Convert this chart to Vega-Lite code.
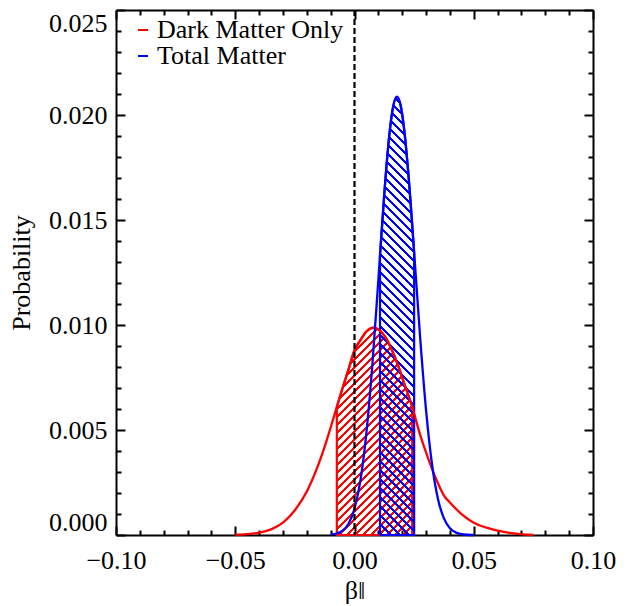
{
"$schema": "https://vega.github.io/schema/vega-lite/v6.json",
"width": 477, "height": 525,
"autosize": {"type": "none"},
"padding": {"left": 116, "top": 10, "right": 35, "bottom": 71},
"background": "white",
"datasets": {
"dm": [
{"x":-0.05,"y":0.000014},{"x":-0.045,"y":0.000041},{"x":-0.04,"y":0.00011},{"x":-0.035,"y":0.00027},{"x":-0.03,"y":0.00059},{"x":-0.025,"y":0.00118},{"x":-0.02,"y":0.00207},{"x":-0.015,"y":0.0034},{"x":-0.0125,"y":0.00421},{"x":-0.01,"y":0.00512},{"x":-0.0074,"y":0.0061},{"x":-0.005,"y":0.007},{"x":-0.0025,"y":0.00789},{"x":0,"y":0.0088},{"x":0.0025,"y":0.00928},{"x":0.005,"y":0.00969},{"x":0.008,"y":0.00987},{"x":0.0105,"y":0.00975},{"x":0.013,"y":0.00941},{"x":0.0155,"y":0.00886},{"x":0.018,"y":0.00816},{"x":0.0205,"y":0.00733},{"x":0.0242,"y":0.0061},{"x":0.0275,"y":0.00478},{"x":0.03,"y":0.00393},{"x":0.0325,"y":0.00315},{"x":0.035,"y":0.00246},{"x":0.0375,"y":0.00188},{"x":0.04,"y":0.00155},{"x":0.045,"y":0.00098},{"x":0.05,"y":0.00058},{"x":0.055,"y":0.00036},{"x":0.06,"y":0.00021},{"x":0.065,"y":0.0001},{"x":0.07,"y":0.00004},{"x":0.075,"y":0}
],
"tm": [
{"x":-0.01,"y":0.00002},{"x":-0.0075,"y":0.00007},{"x":-0.005,"y":0.000206},{"x":-0.0025,"y":0.000535},{"x":0,"y":0.00125},{"x":0.0025,"y":0.0026},{"x":0.005,"y":0.00487},{"x":0.0075,"y":0.00813},{"x":0.0095,"y":0.01132},{"x":0.0107,"y":0.01333},{"x":0.0125,"y":0.01626},{"x":0.0145,"y":0.01894},{"x":0.016,"y":0.02028},{"x":0.0178,"y":0.02087},{"x":0.0195,"y":0.02037},{"x":0.021,"y":0.01914},{"x":0.0225,"y":0.01732},{"x":0.025,"y":0.01348},{"x":0.0275,"y":0.00944},{"x":0.03,"y":0.00595},{"x":0.0325,"y":0.00337},{"x":0.035,"y":0.00172},{"x":0.0375,"y":0.00079},{"x":0.04,"y":0.000327},{"x":0.0425,"y":0.000122},{"x":0.045,"y":0.00004},{"x":0.0475,"y":0.000012},{"x":0.05,"y":0}
],
"zero": [{"x":0}]
},
"layer": [
{
"data": {"name": "dm"},
"transform": [{"filter": "datum.x >= -0.0074 && datum.x <= 0.0242"}],
"mark": {"type": "area", "interpolate": "monotone", "stroke": "#ff0000", "strokeWidth": 2.2,
"fill": {"gradient": "linear", "x1": 0, "y1": 0, "x2": 0.496, "y2": 1.363, "stops": [
{"offset":0,"color":"#ff0000"},{"offset":0.01,"color":"#ff0000"},{"offset":0.01,"color":"rgba(255,0,0,0)"},{"offset":0.025,"color":"rgba(255,0,0,0)"},
{"offset":0.025,"color":"#ff0000"},{"offset":0.035,"color":"#ff0000"},{"offset":0.035,"color":"rgba(255,0,0,0)"},{"offset":0.05,"color":"rgba(255,0,0,0)"},
{"offset":0.05,"color":"#ff0000"},{"offset":0.06,"color":"#ff0000"},{"offset":0.06,"color":"rgba(255,0,0,0)"},{"offset":0.075,"color":"rgba(255,0,0,0)"},
{"offset":0.075,"color":"#ff0000"},{"offset":0.085,"color":"#ff0000"},{"offset":0.085,"color":"rgba(255,0,0,0)"},{"offset":0.1,"color":"rgba(255,0,0,0)"},
{"offset":0.1,"color":"#ff0000"},{"offset":0.11,"color":"#ff0000"},{"offset":0.11,"color":"rgba(255,0,0,0)"},{"offset":0.125,"color":"rgba(255,0,0,0)"},
{"offset":0.125,"color":"#ff0000"},{"offset":0.135,"color":"#ff0000"},{"offset":0.135,"color":"rgba(255,0,0,0)"},{"offset":0.15,"color":"rgba(255,0,0,0)"},
{"offset":0.15,"color":"#ff0000"},{"offset":0.16,"color":"#ff0000"},{"offset":0.16,"color":"rgba(255,0,0,0)"},{"offset":0.175,"color":"rgba(255,0,0,0)"},
{"offset":0.175,"color":"#ff0000"},{"offset":0.185,"color":"#ff0000"},{"offset":0.185,"color":"rgba(255,0,0,0)"},{"offset":0.2,"color":"rgba(255,0,0,0)"},
{"offset":0.2,"color":"#ff0000"},{"offset":0.21,"color":"#ff0000"},{"offset":0.21,"color":"rgba(255,0,0,0)"},{"offset":0.225,"color":"rgba(255,0,0,0)"},
{"offset":0.225,"color":"#ff0000"},{"offset":0.235,"color":"#ff0000"},{"offset":0.235,"color":"rgba(255,0,0,0)"},{"offset":0.25,"color":"rgba(255,0,0,0)"},
{"offset":0.25,"color":"#ff0000"},{"offset":0.26,"color":"#ff0000"},{"offset":0.26,"color":"rgba(255,0,0,0)"},{"offset":0.275,"color":"rgba(255,0,0,0)"},
{"offset":0.275,"color":"#ff0000"},{"offset":0.285,"color":"#ff0000"},{"offset":0.285,"color":"rgba(255,0,0,0)"},{"offset":0.3,"color":"rgba(255,0,0,0)"},
{"offset":0.3,"color":"#ff0000"},{"offset":0.31,"color":"#ff0000"},{"offset":0.31,"color":"rgba(255,0,0,0)"},{"offset":0.325,"color":"rgba(255,0,0,0)"},
{"offset":0.325,"color":"#ff0000"},{"offset":0.335,"color":"#ff0000"},{"offset":0.335,"color":"rgba(255,0,0,0)"},{"offset":0.35,"color":"rgba(255,0,0,0)"},
{"offset":0.35,"color":"#ff0000"},{"offset":0.36,"color":"#ff0000"},{"offset":0.36,"color":"rgba(255,0,0,0)"},{"offset":0.375,"color":"rgba(255,0,0,0)"},
{"offset":0.375,"color":"#ff0000"},{"offset":0.385,"color":"#ff0000"},{"offset":0.385,"color":"rgba(255,0,0,0)"},{"offset":0.4,"color":"rgba(255,0,0,0)"},
{"offset":0.4,"color":"#ff0000"},{"offset":0.41,"color":"#ff0000"},{"offset":0.41,"color":"rgba(255,0,0,0)"},{"offset":0.425,"color":"rgba(255,0,0,0)"},
{"offset":0.425,"color":"#ff0000"},{"offset":0.435,"color":"#ff0000"},{"offset":0.435,"color":"rgba(255,0,0,0)"},{"offset":0.45,"color":"rgba(255,0,0,0)"},
{"offset":0.45,"color":"#ff0000"},{"offset":0.46,"color":"#ff0000"},{"offset":0.46,"color":"rgba(255,0,0,0)"},{"offset":0.475,"color":"rgba(255,0,0,0)"},
{"offset":0.475,"color":"#ff0000"},{"offset":0.485,"color":"#ff0000"},{"offset":0.485,"color":"rgba(255,0,0,0)"},{"offset":0.5,"color":"rgba(255,0,0,0)"},
{"offset":0.5,"color":"#ff0000"},{"offset":0.51,"color":"#ff0000"},{"offset":0.51,"color":"rgba(255,0,0,0)"},{"offset":0.525,"color":"rgba(255,0,0,0)"},
{"offset":0.525,"color":"#ff0000"},{"offset":0.535,"color":"#ff0000"},{"offset":0.535,"color":"rgba(255,0,0,0)"},{"offset":0.55,"color":"rgba(255,0,0,0)"},
{"offset":0.55,"color":"#ff0000"},{"offset":0.56,"color":"#ff0000"},{"offset":0.56,"color":"rgba(255,0,0,0)"},{"offset":0.575,"color":"rgba(255,0,0,0)"},
{"offset":0.575,"color":"#ff0000"},{"offset":0.585,"color":"#ff0000"},{"offset":0.585,"color":"rgba(255,0,0,0)"},{"offset":0.6,"color":"rgba(255,0,0,0)"},
{"offset":0.6,"color":"#ff0000"},{"offset":0.61,"color":"#ff0000"},{"offset":0.61,"color":"rgba(255,0,0,0)"},{"offset":0.625,"color":"rgba(255,0,0,0)"},
{"offset":0.625,"color":"#ff0000"},{"offset":0.635,"color":"#ff0000"},{"offset":0.635,"color":"rgba(255,0,0,0)"},{"offset":0.65,"color":"rgba(255,0,0,0)"},
{"offset":0.65,"color":"#ff0000"},{"offset":0.66,"color":"#ff0000"},{"offset":0.66,"color":"rgba(255,0,0,0)"},{"offset":0.675,"color":"rgba(255,0,0,0)"},
{"offset":0.675,"color":"#ff0000"},{"offset":0.685,"color":"#ff0000"},{"offset":0.685,"color":"rgba(255,0,0,0)"},{"offset":0.7,"color":"rgba(255,0,0,0)"},
{"offset":0.7,"color":"#ff0000"},{"offset":0.71,"color":"#ff0000"},{"offset":0.71,"color":"rgba(255,0,0,0)"},{"offset":0.725,"color":"rgba(255,0,0,0)"},
{"offset":0.725,"color":"#ff0000"},{"offset":0.735,"color":"#ff0000"},{"offset":0.735,"color":"rgba(255,0,0,0)"},{"offset":0.75,"color":"rgba(255,0,0,0)"},
{"offset":0.75,"color":"#ff0000"},{"offset":0.76,"color":"#ff0000"},{"offset":0.76,"color":"rgba(255,0,0,0)"},{"offset":0.775,"color":"rgba(255,0,0,0)"},
{"offset":0.775,"color":"#ff0000"},{"offset":0.785,"color":"#ff0000"},{"offset":0.785,"color":"rgba(255,0,0,0)"},{"offset":0.8,"color":"rgba(255,0,0,0)"},
{"offset":0.8,"color":"#ff0000"},{"offset":0.81,"color":"#ff0000"},{"offset":0.81,"color":"rgba(255,0,0,0)"},{"offset":0.825,"color":"rgba(255,0,0,0)"},
{"offset":0.825,"color":"#ff0000"},{"offset":0.835,"color":"#ff0000"},{"offset":0.835,"color":"rgba(255,0,0,0)"},{"offset":0.85,"color":"rgba(255,0,0,0)"},
{"offset":0.85,"color":"#ff0000"},{"offset":0.86,"color":"#ff0000"},{"offset":0.86,"color":"rgba(255,0,0,0)"},{"offset":0.875,"color":"rgba(255,0,0,0)"},
{"offset":0.875,"color":"#ff0000"},{"offset":0.885,"color":"#ff0000"},{"offset":0.885,"color":"rgba(255,0,0,0)"},{"offset":0.9,"color":"rgba(255,0,0,0)"},
{"offset":0.9,"color":"#ff0000"},{"offset":0.91,"color":"#ff0000"},{"offset":0.91,"color":"rgba(255,0,0,0)"},{"offset":0.925,"color":"rgba(255,0,0,0)"},
{"offset":0.925,"color":"#ff0000"},{"offset":0.935,"color":"#ff0000"},{"offset":0.935,"color":"rgba(255,0,0,0)"},{"offset":0.95,"color":"rgba(255,0,0,0)"},
{"offset":0.95,"color":"#ff0000"},{"offset":0.96,"color":"#ff0000"},{"offset":0.96,"color":"rgba(255,0,0,0)"},{"offset":0.975,"color":"rgba(255,0,0,0)"},
{"offset":0.975,"color":"#ff0000"},{"offset":0.985,"color":"#ff0000"},{"offset":0.985,"color":"rgba(255,0,0,0)"},{"offset":1,"color":"rgba(255,0,0,0)"}
]}},
"encoding": {
"x": {"field": "x", "type": "quantitative", "scale": {"domain": [-0.1, 0.1], "nice": false, "zero": false},
"axis": {"orient": "bottom", "values": [-0.09,-0.08,-0.07,-0.06,-0.04,-0.03,-0.02,-0.01,0.01,0.02,0.03,0.04,0.06,0.07,0.08,0.09], "tickSize": -5, "labels": false, "domain": false, "title": null}},
"y": {"field": "y", "type": "quantitative", "scale": {"domain": [0, 0.025], "nice": false, "zero": false},
"axis": {"orient": "left", "values": [0.001,0.002,0.003,0.004,0.006,0.007,0.008,0.009,0.011,0.012,0.013,0.014,0.016,0.017,0.018,0.019,0.021,0.022,0.023,0.024], "tickSize": -5, "labels": false, "domain": false, "title": null}}
}
},
{
"data": {"name": "tm"},
"transform": [{"filter": "datum.x >= 0.0107 && datum.x <= 0.025"}],
"mark": {"type": "area", "interpolate": "monotone", "stroke": "#0000ff", "strokeWidth": 2.2,
"fill": {"gradient": "linear", "x1": 0, "y1": 1, "x2": 0.0858, "y2": -0.1024, "stops": [
{"offset":0,"color":"#0000ff"},{"offset":0.0065,"color":"#0000ff"},{"offset":0.0065,"color":"rgba(0,0,255,0)"},{"offset":0.0185,"color":"rgba(0,0,255,0)"},
{"offset":0.0185,"color":"#0000ff"},{"offset":0.025,"color":"#0000ff"},{"offset":0.025,"color":"rgba(0,0,255,0)"},{"offset":0.037,"color":"rgba(0,0,255,0)"},
{"offset":0.037,"color":"#0000ff"},{"offset":0.0435,"color":"#0000ff"},{"offset":0.0435,"color":"rgba(0,0,255,0)"},{"offset":0.0556,"color":"rgba(0,0,255,0)"},
{"offset":0.0556,"color":"#0000ff"},{"offset":0.0621,"color":"#0000ff"},{"offset":0.0621,"color":"rgba(0,0,255,0)"},{"offset":0.0741,"color":"rgba(0,0,255,0)"},
{"offset":0.0741,"color":"#0000ff"},{"offset":0.0806,"color":"#0000ff"},{"offset":0.0806,"color":"rgba(0,0,255,0)"},{"offset":0.0926,"color":"rgba(0,0,255,0)"},
{"offset":0.0926,"color":"#0000ff"},{"offset":0.0991,"color":"#0000ff"},{"offset":0.0991,"color":"rgba(0,0,255,0)"},{"offset":0.1111,"color":"rgba(0,0,255,0)"},
{"offset":0.1111,"color":"#0000ff"},{"offset":0.1176,"color":"#0000ff"},{"offset":0.1176,"color":"rgba(0,0,255,0)"},{"offset":0.1296,"color":"rgba(0,0,255,0)"},
{"offset":0.1296,"color":"#0000ff"},{"offset":0.1361,"color":"#0000ff"},{"offset":0.1361,"color":"rgba(0,0,255,0)"},{"offset":0.1481,"color":"rgba(0,0,255,0)"},
{"offset":0.1481,"color":"#0000ff"},{"offset":0.1546,"color":"#0000ff"},{"offset":0.1546,"color":"rgba(0,0,255,0)"},{"offset":0.1667,"color":"rgba(0,0,255,0)"},
{"offset":0.1667,"color":"#0000ff"},{"offset":0.1732,"color":"#0000ff"},{"offset":0.1732,"color":"rgba(0,0,255,0)"},{"offset":0.1852,"color":"rgba(0,0,255,0)"},
{"offset":0.1852,"color":"#0000ff"},{"offset":0.1917,"color":"#0000ff"},{"offset":0.1917,"color":"rgba(0,0,255,0)"},{"offset":0.2037,"color":"rgba(0,0,255,0)"},
{"offset":0.2037,"color":"#0000ff"},{"offset":0.2102,"color":"#0000ff"},{"offset":0.2102,"color":"rgba(0,0,255,0)"},{"offset":0.2222,"color":"rgba(0,0,255,0)"},
{"offset":0.2222,"color":"#0000ff"},{"offset":0.2287,"color":"#0000ff"},{"offset":0.2287,"color":"rgba(0,0,255,0)"},{"offset":0.2407,"color":"rgba(0,0,255,0)"},
{"offset":0.2407,"color":"#0000ff"},{"offset":0.2472,"color":"#0000ff"},{"offset":0.2472,"color":"rgba(0,0,255,0)"},{"offset":0.2593,"color":"rgba(0,0,255,0)"},
{"offset":0.2593,"color":"#0000ff"},{"offset":0.2658,"color":"#0000ff"},{"offset":0.2658,"color":"rgba(0,0,255,0)"},{"offset":0.2778,"color":"rgba(0,0,255,0)"},
{"offset":0.2778,"color":"#0000ff"},{"offset":0.2843,"color":"#0000ff"},{"offset":0.2843,"color":"rgba(0,0,255,0)"},{"offset":0.2963,"color":"rgba(0,0,255,0)"},
{"offset":0.2963,"color":"#0000ff"},{"offset":0.3028,"color":"#0000ff"},{"offset":0.3028,"color":"rgba(0,0,255,0)"},{"offset":0.3148,"color":"rgba(0,0,255,0)"},
{"offset":0.3148,"color":"#0000ff"},{"offset":0.3213,"color":"#0000ff"},{"offset":0.3213,"color":"rgba(0,0,255,0)"},{"offset":0.3333,"color":"rgba(0,0,255,0)"},
{"offset":0.3333,"color":"#0000ff"},{"offset":0.3398,"color":"#0000ff"},{"offset":0.3398,"color":"rgba(0,0,255,0)"},{"offset":0.3519,"color":"rgba(0,0,255,0)"},
{"offset":0.3519,"color":"#0000ff"},{"offset":0.3584,"color":"#0000ff"},{"offset":0.3584,"color":"rgba(0,0,255,0)"},{"offset":0.3704,"color":"rgba(0,0,255,0)"},
{"offset":0.3704,"color":"#0000ff"},{"offset":0.3769,"color":"#0000ff"},{"offset":0.3769,"color":"rgba(0,0,255,0)"},{"offset":0.3889,"color":"rgba(0,0,255,0)"},
{"offset":0.3889,"color":"#0000ff"},{"offset":0.3954,"color":"#0000ff"},{"offset":0.3954,"color":"rgba(0,0,255,0)"},{"offset":0.4074,"color":"rgba(0,0,255,0)"},
{"offset":0.4074,"color":"#0000ff"},{"offset":0.4139,"color":"#0000ff"},{"offset":0.4139,"color":"rgba(0,0,255,0)"},{"offset":0.4259,"color":"rgba(0,0,255,0)"},
{"offset":0.4259,"color":"#0000ff"},{"offset":0.4324,"color":"#0000ff"},{"offset":0.4324,"color":"rgba(0,0,255,0)"},{"offset":0.4444,"color":"rgba(0,0,255,0)"},
{"offset":0.4444,"color":"#0000ff"},{"offset":0.4509,"color":"#0000ff"},{"offset":0.4509,"color":"rgba(0,0,255,0)"},{"offset":0.463,"color":"rgba(0,0,255,0)"},
{"offset":0.463,"color":"#0000ff"},{"offset":0.4695,"color":"#0000ff"},{"offset":0.4695,"color":"rgba(0,0,255,0)"},{"offset":0.4815,"color":"rgba(0,0,255,0)"},
{"offset":0.4815,"color":"#0000ff"},{"offset":0.488,"color":"#0000ff"},{"offset":0.488,"color":"rgba(0,0,255,0)"},{"offset":0.5,"color":"rgba(0,0,255,0)"},
{"offset":0.5,"color":"#0000ff"},{"offset":0.5065,"color":"#0000ff"},{"offset":0.5065,"color":"rgba(0,0,255,0)"},{"offset":0.5185,"color":"rgba(0,0,255,0)"},
{"offset":0.5185,"color":"#0000ff"},{"offset":0.525,"color":"#0000ff"},{"offset":0.525,"color":"rgba(0,0,255,0)"},{"offset":0.537,"color":"rgba(0,0,255,0)"},
{"offset":0.537,"color":"#0000ff"},{"offset":0.5435,"color":"#0000ff"},{"offset":0.5435,"color":"rgba(0,0,255,0)"},{"offset":0.5556,"color":"rgba(0,0,255,0)"},
{"offset":0.5556,"color":"#0000ff"},{"offset":0.5621,"color":"#0000ff"},{"offset":0.5621,"color":"rgba(0,0,255,0)"},{"offset":0.5741,"color":"rgba(0,0,255,0)"},
{"offset":0.5741,"color":"#0000ff"},{"offset":0.5806,"color":"#0000ff"},{"offset":0.5806,"color":"rgba(0,0,255,0)"},{"offset":0.5926,"color":"rgba(0,0,255,0)"},
{"offset":0.5926,"color":"#0000ff"},{"offset":0.5991,"color":"#0000ff"},{"offset":0.5991,"color":"rgba(0,0,255,0)"},{"offset":0.6111,"color":"rgba(0,0,255,0)"},
{"offset":0.6111,"color":"#0000ff"},{"offset":0.6176,"color":"#0000ff"},{"offset":0.6176,"color":"rgba(0,0,255,0)"},{"offset":0.6296,"color":"rgba(0,0,255,0)"},
{"offset":0.6296,"color":"#0000ff"},{"offset":0.6361,"color":"#0000ff"},{"offset":0.6361,"color":"rgba(0,0,255,0)"},{"offset":0.6481,"color":"rgba(0,0,255,0)"},
{"offset":0.6481,"color":"#0000ff"},{"offset":0.6546,"color":"#0000ff"},{"offset":0.6546,"color":"rgba(0,0,255,0)"},{"offset":0.6667,"color":"rgba(0,0,255,0)"},
{"offset":0.6667,"color":"#0000ff"},{"offset":0.6732,"color":"#0000ff"},{"offset":0.6732,"color":"rgba(0,0,255,0)"},{"offset":0.6852,"color":"rgba(0,0,255,0)"},
{"offset":0.6852,"color":"#0000ff"},{"offset":0.6917,"color":"#0000ff"},{"offset":0.6917,"color":"rgba(0,0,255,0)"},{"offset":0.7037,"color":"rgba(0,0,255,0)"},
{"offset":0.7037,"color":"#0000ff"},{"offset":0.7102,"color":"#0000ff"},{"offset":0.7102,"color":"rgba(0,0,255,0)"},{"offset":0.7222,"color":"rgba(0,0,255,0)"},
{"offset":0.7222,"color":"#0000ff"},{"offset":0.7287,"color":"#0000ff"},{"offset":0.7287,"color":"rgba(0,0,255,0)"},{"offset":0.7407,"color":"rgba(0,0,255,0)"},
{"offset":0.7407,"color":"#0000ff"},{"offset":0.7472,"color":"#0000ff"},{"offset":0.7472,"color":"rgba(0,0,255,0)"},{"offset":0.7593,"color":"rgba(0,0,255,0)"},
{"offset":0.7593,"color":"#0000ff"},{"offset":0.7658,"color":"#0000ff"},{"offset":0.7658,"color":"rgba(0,0,255,0)"},{"offset":0.7778,"color":"rgba(0,0,255,0)"},
{"offset":0.7778,"color":"#0000ff"},{"offset":0.7843,"color":"#0000ff"},{"offset":0.7843,"color":"rgba(0,0,255,0)"},{"offset":0.7963,"color":"rgba(0,0,255,0)"},
{"offset":0.7963,"color":"#0000ff"},{"offset":0.8028,"color":"#0000ff"},{"offset":0.8028,"color":"rgba(0,0,255,0)"},{"offset":0.8148,"color":"rgba(0,0,255,0)"},
{"offset":0.8148,"color":"#0000ff"},{"offset":0.8213,"color":"#0000ff"},{"offset":0.8213,"color":"rgba(0,0,255,0)"},{"offset":0.8333,"color":"rgba(0,0,255,0)"},
{"offset":0.8333,"color":"#0000ff"},{"offset":0.8398,"color":"#0000ff"},{"offset":0.8398,"color":"rgba(0,0,255,0)"},{"offset":0.8519,"color":"rgba(0,0,255,0)"},
{"offset":0.8519,"color":"#0000ff"},{"offset":0.8584,"color":"#0000ff"},{"offset":0.8584,"color":"rgba(0,0,255,0)"},{"offset":0.8704,"color":"rgba(0,0,255,0)"},
{"offset":0.8704,"color":"#0000ff"},{"offset":0.8769,"color":"#0000ff"},{"offset":0.8769,"color":"rgba(0,0,255,0)"},{"offset":0.8889,"color":"rgba(0,0,255,0)"},
{"offset":0.8889,"color":"#0000ff"},{"offset":0.8954,"color":"#0000ff"},{"offset":0.8954,"color":"rgba(0,0,255,0)"},{"offset":0.9074,"color":"rgba(0,0,255,0)"},
{"offset":0.9074,"color":"#0000ff"},{"offset":0.9139,"color":"#0000ff"},{"offset":0.9139,"color":"rgba(0,0,255,0)"},{"offset":0.9259,"color":"rgba(0,0,255,0)"},
{"offset":0.9259,"color":"#0000ff"},{"offset":0.9324,"color":"#0000ff"},{"offset":0.9324,"color":"rgba(0,0,255,0)"},{"offset":0.9444,"color":"rgba(0,0,255,0)"},
{"offset":0.9444,"color":"#0000ff"},{"offset":0.9509,"color":"#0000ff"},{"offset":0.9509,"color":"rgba(0,0,255,0)"},{"offset":0.963,"color":"rgba(0,0,255,0)"},
{"offset":0.963,"color":"#0000ff"},{"offset":0.9695,"color":"#0000ff"},{"offset":0.9695,"color":"rgba(0,0,255,0)"},{"offset":0.9815,"color":"rgba(0,0,255,0)"},
{"offset":0.9815,"color":"#0000ff"},{"offset":0.988,"color":"#0000ff"},{"offset":0.988,"color":"rgba(0,0,255,0)"},{"offset":1,"color":"rgba(0,0,255,0)"}
]}},
"encoding": {
"x": {"field": "x", "type": "quantitative", "scale": {"domain": [-0.1, 0.1], "nice": false, "zero": false},
"axis": {"orient": "top", "values": [-0.09,-0.08,-0.07,-0.06,-0.04,-0.03,-0.02,-0.01,0.01,0.02,0.03,0.04,0.06,0.07,0.08,0.09], "tickSize": -5, "labels": false, "domain": false, "title": null}},
"y": {"field": "y", "type": "quantitative", "scale": {"domain": [0, 0.025], "nice": false, "zero": false},
"axis": {"orient": "right", "values": [0.001,0.002,0.003,0.004,0.006,0.007,0.008,0.009,0.011,0.012,0.013,0.014,0.016,0.017,0.018,0.019,0.021,0.022,0.023,0.024], "tickSize": -5, "labels": false, "domain": false, "title": null}}
}
},
{
"data": {"name": "dm"},
"mark": {"type": "line", "interpolate": "monotone", "strokeWidth": 2.3},
"encoding": {
"x": {"field": "x", "type": "quantitative", "scale": {"domain": [-0.1, 0.1], "nice": false, "zero": false},
"axis": {"orient": "bottom", "values": [-0.1,-0.05,0,0.05,0.1], "format": ".2f", "tickSize": -9, "labelPadding": 21, "labelFlush": false, "labelOverlap": false, "title": "β‖", "titlePadding": 4}},
"y": {"field": "y", "type": "quantitative", "scale": {"domain": [0, 0.025], "nice": false, "zero": false},
"axis": {"orient": "left", "values": [0,0.005,0.01,0.015,0.02,0.025], "format": ".3f", "tickSize": -9, "labelPadding": 18, "labelFlush": true, "labelOverlap": false, "title": "Probability", "titlePadding": 14}},
"color": {"datum": "Dark Matter Only", "type": "nominal",
"scale": {"domain": ["Dark Matter Only", "Total Matter"], "range": ["#ff0000", "#0000ff"]},
"legend": {"orient": "none", "legendX": 14, "legendY": 7, "title": null, "symbolType": "stroke", "symbolSize": 100, "symbolStrokeWidth": 2, "labelFont": "Liberation Serif", "labelFontSize": 26, "labelColor": "black", "labelOffset": 1, "labelLimit": 0, "rowPadding": 0, "padding": 0}}
}
},
{
"data": {"name": "tm"},
"mark": {"type": "line", "interpolate": "monotone", "strokeWidth": 2.3},
"encoding": {
"x": {"field": "x", "type": "quantitative", "scale": {"domain": [-0.1, 0.1], "nice": false, "zero": false},
"axis": {"orient": "top", "values": [-0.1,-0.05,0,0.05,0.1], "tickSize": -9, "labels": false, "title": null}},
"y": {"field": "y", "type": "quantitative", "scale": {"domain": [0, 0.025], "nice": false, "zero": false},
"axis": {"orient": "right", "values": [0,0.005,0.01,0.015,0.02,0.025], "tickSize": -9, "labels": false, "title": null}},
"color": {"datum": "Total Matter", "type": "nominal"}
}
},
{
"data": {"name": "zero"},
"mark": {"type": "rule", "color": "black", "strokeWidth": 2.2, "strokeDash": [6, 3]},
"encoding": {
"x": {"field": "x", "type": "quantitative", "axis": null}
}
}
],
"resolve": {"axis": {"x": "independent", "y": "independent"}},
"config": {
"view": {"stroke": null},
"axis": {"grid": false, "domainColor": "black", "domainWidth": 2, "tickColor": "black", "tickWidth": 2,
"labelFont": "Liberation Serif", "labelFontSize": 26, "labelColor": "black",
"titleFont": "Liberation Serif", "titleFontSize": 26, "titleFontWeight": "normal", "titleColor": "black", "zindex": 1}
}
}
